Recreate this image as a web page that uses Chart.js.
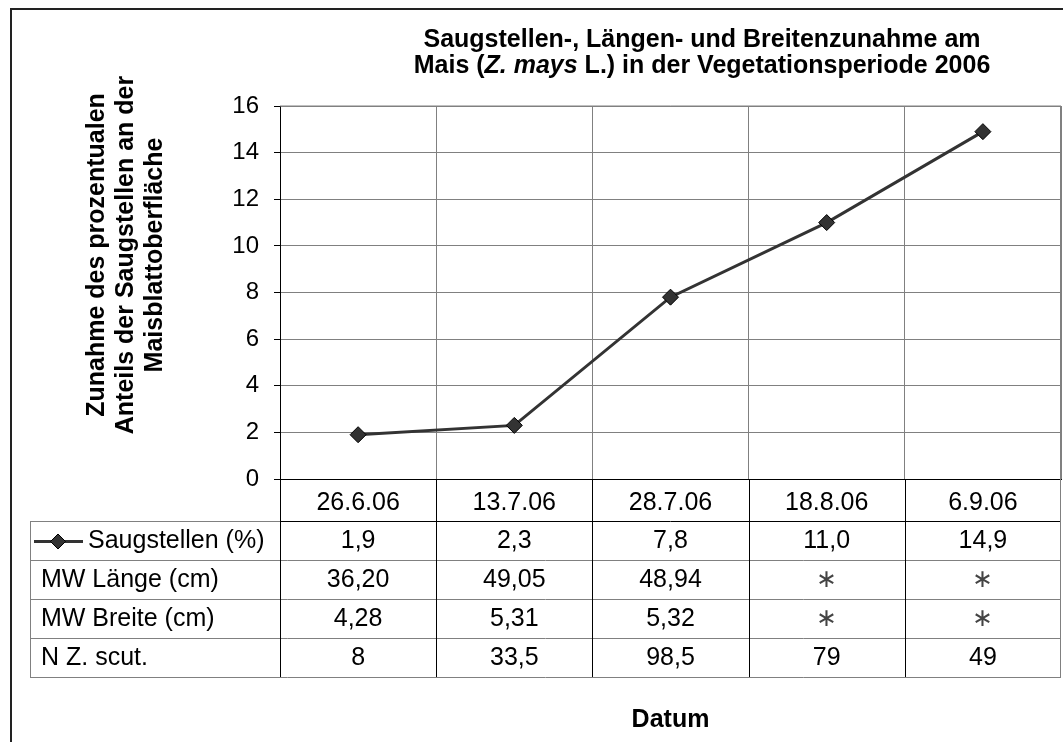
<!DOCTYPE html>
<html>
<head>
<meta charset="utf-8">
<script src="https://cdn.jsdelivr.net/npm/chart.js@4.4.0/dist/chart.umd.min.js"></script>
<style>
  body { margin: 0; background: #fff; }
  #wrap { width: 1063px; height: 742px; position: relative; }
</style>
</head>
<body>
<div id="wrap"><canvas id="chart1"></canvas></div>
<script>
/***************** DATA *****************/
const dates = ['26.6.06', '13.7.06', '28.7.06', '18.8.06', '6.9.06'];
const saugstellen = [1.9, 2.3, 7.8, 11.0, 14.9];
const laenge = ['36,20', '49,05', '48,94', '\u2217', '\u2217'];
const breite = ['4,28', '5,31', '5,32', '\u2217', '\u2217'];
const nScut = ['8', '33,5', '98,5', '79', '49'];
const yTicks = [0, 2, 4, 6, 8, 10, 12, 14, 16];

const fontFamily = '"Liberation Sans", Arial, sans-serif';
const lineColor = '#333333';
const gridGray = '#808080';

/***************** HELPERS *****************/
function drawDiamond(ctx, x, y, r) {
    ctx.beginPath();
    ctx.moveTo(x - r, y);
    ctx.lineTo(x, y - r);
    ctx.lineTo(x + r, y);
    ctx.lineTo(x, y + r);
    ctx.closePath();
    ctx.fillStyle = lineColor;
    ctx.fill();
    ctx.lineWidth = 1;
    ctx.strokeStyle = '#000';
    ctx.stroke();
}

function hLine(ctx, x1, x2, y, color) {
    ctx.strokeStyle = color;
    ctx.beginPath();
    ctx.moveTo(x1, y + 0.5);
    ctx.lineTo(x2, y + 0.5);
    ctx.stroke();
}

function vLine(ctx, x, y1, y2, color) {
    ctx.strokeStyle = color;
    ctx.beginPath();
    ctx.moveTo(x + 0.5, y1);
    ctx.lineTo(x + 0.5, y2);
    ctx.stroke();
}

// frame, titles and data table
const decorPlugin = {
    id: 'decor',
    afterDraw(chart) {
        const ctx = chart.ctx;
        const area = chart.chartArea;
        const xs = chart.scales.x;
        ctx.save();

        // outer frame (only top and left visible)
        ctx.strokeStyle = '#222';
        ctx.lineWidth = 2;
        ctx.beginPath();
        ctx.moveTo(11, 742);
        ctx.lineTo(11, 9);
        ctx.lineTo(1063, 9);
        ctx.stroke();

        // top / right border of plot area
        ctx.lineWidth = 1;
        hLine(ctx, area.left, area.right, area.top - 0.5, gridGray);
        vLine(ctx, area.right - 1, area.top, area.bottom, gridGray);

        // chart title
        ctx.fillStyle = '#000';
        ctx.textBaseline = 'alphabetic';
        ctx.textAlign = 'left';
        const cx = 702;
        ctx.font = 'bold 25px ' + fontFamily;
        const t1 = 'Saugstellen-, L\u00e4ngen- und Breitenzunahme am';
        ctx.fillText(t1, cx - ctx.measureText(t1).width / 2, 47);
        const parts = [
            ['bold 25px ', 'Mais ('],
            ['italic bold 25px ', 'Z. mays '],
            ['bold 25px ', 'L.) in der Vegetationsperiode 2006']
        ];
        let total = 0;
        parts.forEach(p => { ctx.font = p[0] + fontFamily; total += ctx.measureText(p[1]).width; });
        let px = cx - total / 2;
        parts.forEach(p => {
            ctx.font = p[0] + fontFamily;
            ctx.fillText(p[1], px, 73);
            px += ctx.measureText(p[1]).width;
        });

        // y axis title
        const yTitle = ['Zunahme des prozentualen', 'Anteils der Saugstellen an der', 'Maisblattoberfl\u00e4che'];
        ctx.font = 'bold 25px ' + fontFamily;
        ctx.textAlign = 'center';
        ctx.textBaseline = 'middle';
        yTitle.forEach((line, i) => {
            ctx.save();
            ctx.translate(97 + i * 29, 255);
            ctx.rotate(-Math.PI / 2);
            ctx.fillText(line, 0, 0);
            ctx.restore();
        });

        // x axis title
        ctx.fillText('Datum', (area.left + area.right) / 2, 720);

        // data table
        const rowLines = [521, 560, 599, 638, 677];
        const legendLeft = 30;
        ctx.lineWidth = 1;
        hLine(ctx, area.left, area.right, rowLines[0], '#000');
        hLine(ctx, legendLeft, area.left, rowLines[0], gridGray);
        for (let i = 1; i < rowLines.length; i++) {
            hLine(ctx, legendLeft, area.right, rowLines[i], gridGray);
        }
        vLine(ctx, legendLeft, rowLines[0], rowLines[4], gridGray);
        // column boundaries
        const step = (area.right - area.left) / dates.length;
        for (let i = 0; i < dates.length; i++) {
            vLine(ctx, Math.round(area.left + i * step), area.bottom, rowLines[4], '#000');
        }
        vLine(ctx, area.right - 1, area.bottom, rowLines[4], gridGray);

        // row contents
        const rows = [
            saugstellen.map(v => v.toFixed(1).replace('.', ',')),
            laenge,
            breite,
            nScut
        ];
        const rowNames = ['Saugstellen (%)', 'MW L\u00e4nge (cm)', 'MW Breite (cm)', 'N Z. scut.'];
        ctx.font = '25px ' + fontFamily;
        ctx.fillStyle = '#000';
        rows.forEach((row, r) => {
            const yc = (rowLines[r] + rowLines[r + 1]) / 2 + 1;
            ctx.textAlign = 'left';
            ctx.fillText(rowNames[r], r === 0 ? 88 : 41, yc);
            ctx.textAlign = 'center';
            row.forEach((val, i) => {
                ctx.fillStyle = val === '\u2217' ? '#444' : '#000';
                ctx.fillText(val, xs.getPixelForValue(i), yc);
            });
            ctx.fillStyle = '#000';
        });

        // legend key
        const ky = (rowLines[0] + rowLines[1]) / 2 + 1;
        ctx.strokeStyle = lineColor;
        ctx.lineWidth = 3;
        ctx.beginPath();
        ctx.moveTo(34, ky);
        ctx.lineTo(83, ky);
        ctx.stroke();
        drawDiamond(ctx, 58, ky, 7.5);

        ctx.restore();
    }
};

/***************** CHART *****************/
const data = {
    labels: dates,
    datasets: [{
        label: 'Saugstellen (%)',
        data: saugstellen,
        borderColor: lineColor,
        borderWidth: 3,
        backgroundColor: lineColor,
        pointStyle: 'rectRot',
        pointRadius: 8,
        pointBorderWidth: 1,
        pointBorderColor: '#000',
        pointBackgroundColor: lineColor,
        tension: 0,
        fill: false
    }]
};

const options = {
    responsive: true,
    maintainAspectRatio: false,
    animation: false,
    layout: {
        autoPadding: false,
        padding: { left: 0, top: 106, right: 2, bottom: 0 }
    },
    plugins: {
        legend: { display: false },
        title: { display: false },
        tooltip: { enabled: false }
    },
    scales: {
        x: {
            offset: true,
            grid: {
                offset: true,
                color: gridGray,
                drawTicks: false
            },
            border: { color: '#000' },
            ticks: {
                color: '#000',
                padding: 9,
                font: { family: fontFamily, size: 25 }
            },
            afterFit(scale) {
                scale.height = 263;
                scale.paddingLeft = 0;
                scale.paddingRight = 0;
            }
        },
        y: {
            min: 0,
            max: 16,
            afterBuildTicks(scale) { scale.ticks = yTicks.map(v => ({ value: v })); },
            grid: {
                color: gridGray,
                tickColor: '#000',
                tickLength: 6
            },
            border: { color: '#000' },
            ticks: {
                color: '#000',
                padding: 15,
                font: { family: fontFamily, size: 24 }
            },
            afterFit(scale) { scale.width = 280; }
        }
    }
};

const ctx = document.getElementById('chart1').getContext('2d');
const myChart = new Chart(ctx, {
    type: 'line',
    data: data,
    options: options,
    plugins: [decorPlugin]
});
</script>
</body>
</html>
